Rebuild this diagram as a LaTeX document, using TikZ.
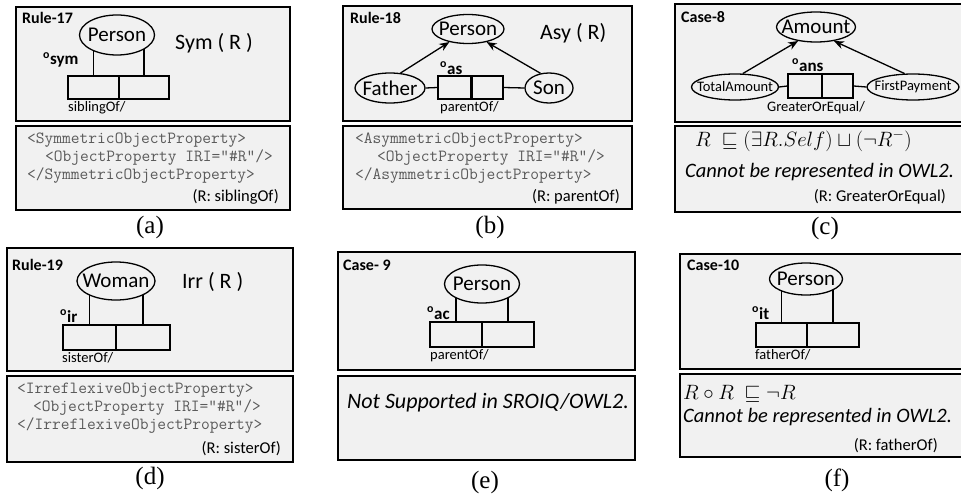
\documentclass[tikz,border=0pt]{standalone}
\usepackage{fontspec}
\usepackage{amssymb}
\setmainfont{Carlito}
\newfontfamily\labfont{Liberation Serif}
\usetikzlibrary{shapes.geometric,arrows.meta}
\pgfdeclarelayer{bg}
\pgfdeclarelayer{mid}
\pgfsetlayers{bg,mid,main}
\definecolor{panelgray}{HTML}{F1F1F1}
\definecolor{codegray}{HTML}{5A5A5A}
\tikzset{
  panel/.style={draw=black, line width=1.4pt, fill=panelgray, rectangle, inner sep=0pt},
  ell/.style={draw=black, line width=1.3pt, fill=panelgray, ellipse, inner sep=0pt},
  ellname/.style={font=\fontsize{21}{21}\selectfont},
  smallell/.style={font=\fontsize{14.5}{14.5}\selectfont},
  cell/.style={draw=black, line width=1.3pt, fill=panelgray, rectangle, inner sep=0pt},
  conn/.style={draw=black, line width=1.3pt},
  arr/.style={draw=black, line width=1.3pt, -{Stealth[length=10pt,width=8pt]}},
  title/.style={font=\bfseries\fontsize{16}{16}\selectfont, anchor=west, inner sep=0pt},
  axiom/.style={font=\fontsize{22}{22}\selectfont, anchor=west, inner sep=0pt},
  rel/.style={font=\fontsize{14.5}{14.5}\selectfont, anchor=west, inner sep=0pt},
  op/.style={font=\bfseries\fontsize{17}{17}\selectfont, anchor=west, inner sep=0pt},
  code/.style={font=\ttfamily\fontsize{17}{18}\selectfont, text=codegray, anchor=west, inner sep=0pt},
  note/.style={font=\fontsize{16.5}{16.5}\selectfont, anchor=east, inner sep=0pt},
  itnote/.style={font=\itshape\fontsize{20.5}{20.5}\selectfont, anchor=west, inner sep=0pt},
  mathnote/.style={font=\fontsize{22}{22}\selectfont, anchor=west, inner sep=0pt},
  sublab/.style={font=\labfont\fontsize{25}{25}\selectfont, inner sep=0pt},
}
\begin{document}
\begin{tikzpicture}[x=1pt,y=-1pt]
\useasboundingbox (0,0) rectangle (961,500);
% ---------- panels ----------
\begin{pgfonlayer}{bg}
\node[panel, minimum width=274, minimum height=114] (Atop) at (153,64) {};
\node[panel, minimum width=274, minimum height=84] (Abot) at (153,168) {};
\node[panel, minimum width=289, minimum height=115] (Btop) at (487.5,63.5) {};
\node[panel, minimum width=289, minimum height=83] (Bbot) at (487.5,167.5) {};
\node[panel, minimum width=287, minimum height=118] (Ctop) at (818.5,63) {};
\node[panel, minimum width=287, minimum height=86] (Cbot) at (818.5,169) {};
\node[panel, minimum width=286, minimum height=123] (Dtop) at (150,309.5) {};
\node[panel, minimum width=286, minimum height=86] (Dbot) at (150,419) {};
\node[panel, minimum width=297, minimum height=118] (Etop) at (486.5,311) {};
\node[panel, minimum width=297, minimum height=84] (Ebot) at (486.5,418) {};
\node[panel, minimum width=282, minimum height=115] (Ftop) at (821,311.5) {};
\node[panel, minimum width=282, minimum height=83] (Fbot) at (821,415.5) {};
\end{pgfonlayer}

% ---------- (a) Rule-17 ----------
\node[title] (ta) at (22,18) {Rule-17};
\node[ell, minimum width=75, minimum height=40, label={[ellname]center:Person}] (pa) at (117,35) {};
\node[axiom] (sa) at (175,43) {Sym ( R )};
\node[op] (oa) at (43,60) {\textsuperscript{o}sym};
\node[cell, minimum width=51, minimum height=23] (a1) at (93.5,87.5) {};
\node[cell, minimum width=50, minimum height=23] (a2) at (144,87.5) {};
\node[rel] (ra) at (68,108) {siblingOf/};
\begin{pgfonlayer}{mid}
\draw[conn] (a1.north) -- (a1.north |- pa.center);
\draw[conn] (a2.north) -- (a2.north |- pa.center);
\end{pgfonlayer}
\node[code] (ca1) at (27,140) {<SymmetricObjectProperty>};
\node[code] (ca2) at (45,158) {<ObjectProperty IRI="\#R"/>};
\node[code] (ca3) at (27,176) {</SymmetricObjectProperty>};
\node[note] (na) at (279,197) {(R: siblingOf)};
\node[sublab] (la) at (150,227) {(a)};

% ---------- (b) Rule-18 ----------
\node[title] (tb) at (350,18) {Rule-18};
\node[ell, minimum width=72, minimum height=29, label={[ellname]center:Person}] (pb) at (468,29) {};
\node[axiom] (sb) at (540,33) {Asy ( R)};
\node[ell, minimum width=70, minimum height=30, label={[ellname]center:Father}] (fb) at (390,88) {};
\node[ell, minimum width=48, minimum height=30, label={[ellname]center:Son}] (sob) at (549,88) {};
\node[cell, minimum width=33, minimum height=23] (b1) at (454.5,87.5) {};
\node[cell, minimum width=32, minimum height=23] (b2) at (487,87.5) {};
\draw[line width=1.2pt] ([xshift=1.2pt]b1.north east) -- ([xshift=1.2pt]b1.south east);
\node[op] (ob) at (440,68) {\textsuperscript{o}as};
\node[rel] (rb) at (440,108) {parentOf/};
\draw[conn] (fb.east) -- (b1.west);
\draw[conn] (b2.east) -- (sob.west);
\draw[arr] (fb.55) -- (pb.215);
\draw[arr] (sob.120) -- (pb.-35);
\node[code] (cb1) at (355,140) {<AsymmetricObjectProperty>};
\node[code] (cb2) at (377,158) {<ObjectProperty IRI="\#R"/>};
\node[code] (cb3) at (355,176) {</AsymmetricObjectProperty>};
\node[note] (nb) at (620,197) {(R: parentOf)};
\node[sublab] (lb) at (490,227) {(b)};

% ---------- (c) Case-8 ----------
\node[title] (tc) at (681,17) {Case-8};
\node[ell, minimum width=79, minimum height=30, label={[ellname]center:Amount}] (pc) at (816,27) {};
\node[ell, minimum width=87, minimum height=26, label={[smallell]center:TotalAmount}] (tac) at (735,87) {};
\node[ell, minimum width=92, minimum height=26, label={[smallell]center:FirstPayment}] (fpc) at (913,87) {};
\node[cell, minimum width=34, minimum height=24] (c1) at (805,86) {};
\node[cell, minimum width=31, minimum height=24] (c2) at (837.5,86) {};
\node[op] (oc) at (792,65) {\textsuperscript{o}ans};
\node[rel] (rc) at (767,108) {GreaterOrEqual/};
\draw[conn] (tac.east) -- (c1.west);
\draw[conn] (c2.east) -- (fpc.west);
\draw[arr] (tac.60) -- (pc.218);
\draw[arr] (fpc.122) -- (pc.-38);
\node[mathnote] (mc) at (695,141) {$R\ \sqsubseteq(\exists R.Self)\sqcup(\neg R^{-})$};
\node[itnote] (ic) at (685,172) {Cannot be represented in OWL2.};
\node[note] (nc) at (946,197) {(R: GreaterOrEqual)};
\node[sublab] (lc) at (825,228) {(c)};

% ---------- (d) Rule-19 ----------
\node[title] (td) at (12,265) {Rule-19};
\node[ell, minimum width=78, minimum height=38, label={[ellname]center:Woman}] (pd) at (116,281) {};
\node[axiom] (sd) at (182,282) {Irr ( R )};
\node[op] (od) at (60,316) {\textsuperscript{o}ir};
\node[cell, minimum width=53, minimum height=25] (d1) at (89.5,337.5) {};
\node[cell, minimum width=54, minimum height=25] (d2) at (143,337.5) {};
\node[rel] (rd) at (62,358) {sisterOf/};
\begin{pgfonlayer}{mid}
\draw[conn] (d1.north) -- (d1.north |- pd.center);
\draw[conn] (d2.north) -- (d2.north |- pd.center);
\end{pgfonlayer}
\node[code] (cd1) at (17,390) {<IrreflexiveObjectProperty>};
\node[code] (cd2) at (33,408) {<ObjectProperty IRI="\#R"/>};
\node[code] (cd3) at (17,426) {</IrreflexiveObjectProperty>};
\node[note] (nd) at (281,449) {(R: sisterOf)};
\node[sublab] (ld) at (150,478) {(d)};

% ---------- (e) Case-9 ----------
\node[title] (te) at (343,265) {Case- 9};
\node[ell, minimum width=75, minimum height=38, label={[ellname]center:Person}] (pe) at (482,284) {};
\node[op] (oe) at (427,313) {\textsuperscript{o}ac};
\node[cell, minimum width=52, minimum height=25] (e1) at (456,334.5) {};
\node[cell, minimum width=52, minimum height=25] (e2) at (508,334.5) {};
\node[rel] (re) at (430,356) {parentOf/};
\begin{pgfonlayer}{mid}
\draw[conn] (e1.north) -- (e1.north |- pe.center);
\draw[conn] (e2.north) -- (e2.north |- pe.center);
\end{pgfonlayer}
\node[itnote, font=\itshape\fontsize{22}{22}\selectfont] (ie) at (347,403) {Not Supported in SROIQ/OWL2.};
\node[sublab] (le) at (485,482) {(e)};

% ---------- (f) Case-10 ----------
\node[title] (tf) at (687,265) {Case-10};
\node[ell, minimum width=73, minimum height=32, label={[ellname]center:Person}] (pf) at (806,279) {};
\node[op] (of) at (752,313) {\textsuperscript{o}it};
\node[cell, minimum width=51, minimum height=24] (f1) at (781.5,335) {};
\node[cell, minimum width=52, minimum height=24] (f2) at (833,335) {};
\node[rel] (rf) at (755,355) {fatherOf/};
\begin{pgfonlayer}{mid}
\draw[conn] (f1.north) -- (f1.north |- pf.center);
\draw[conn] (f2.north) -- (f2.north |- pf.center);
\end{pgfonlayer}
\node[mathnote, font=\fontsize{20}{20}\selectfont] (mf) at (683,394) {$R\circ R\ \sqsubseteq\neg R$};
\node[itnote] (iff) at (683,417) {Cannot be represented in OWL2.};
\node[note] (nf) at (938,446) {(R: fatherOf)};
\node[sublab] (lf) at (837,480) {(f)};
\end{tikzpicture}
\end{document}
